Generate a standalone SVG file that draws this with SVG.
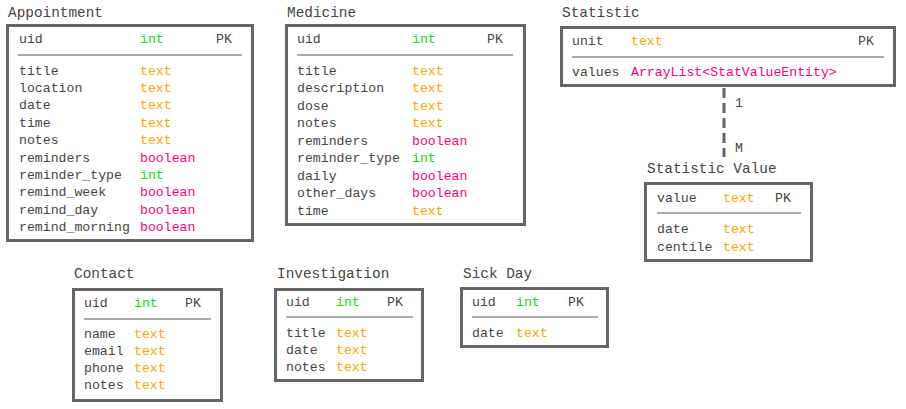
<svg xmlns="http://www.w3.org/2000/svg" width="906" height="409" viewBox="0 0 906 409">
<style>
text{font-family:"Liberation Mono","DejaVu Sans Mono",monospace;font-size:13.2px;fill:#444}
.title{font-size:14.4px}
.box{fill:#fff;stroke:#666;stroke-width:3}
.sep{stroke:#aaa;stroke-width:2}
.int{fill:#11dd11}
.txt{fill:#ffa500}
.bool{fill:#ff0077}
.conn{stroke:#666;stroke-width:3;stroke-dasharray:10 5;fill:none}
</style>
<rect width="906" height="409" fill="#fff"/>
<g id="connectors">
<line class="conn" x1="724" y1="88" x2="724" y2="157"/>
<text x="735" y="107">1</text>
<text x="735" y="152">M</text>
</g>
<g id="appointment">
<text class="title" x="8" y="16.5">Appointment</text>
<rect class="box" x="7.5" y="25.5" width="245" height="215"/>
<text x="19" y="43">uid</text><text class="int" x="140" y="43">int</text><text x="216" y="43">PK</text>
<line class="sep" x1="18" y1="55" x2="242" y2="55"/>
<text x="19" y="74.5">title</text><text class="txt" x="140" y="74.5">text</text>
<text x="19" y="91.9">location</text><text class="txt" x="140" y="91.9">text</text>
<text x="19" y="109.3">date</text><text class="txt" x="140" y="109.3">text</text>
<text x="19" y="126.7">time</text><text class="txt" x="140" y="126.7">text</text>
<text x="19" y="144.1">notes</text><text class="txt" x="140" y="144.1">text</text>
<text x="19" y="161.5">reminders</text><text class="bool" x="140" y="161.5">boolean</text>
<text x="19" y="178.9">reminder_type</text><text class="int" x="140" y="178.9">int</text>
<text x="19" y="196.3">remind_week</text><text class="bool" x="140" y="196.3">boolean</text>
<text x="19" y="213.7">remind_day</text><text class="bool" x="140" y="213.7">boolean</text>
<text x="19" y="231.1">remind_morning</text><text class="bool" x="140" y="231.1">boolean</text>
</g>
<g id="medicine">
<text class="title" x="287" y="16.5">Medicine</text>
<rect class="box" x="286.5" y="25.5" width="238" height="199"/>
<text x="297" y="43">uid</text><text class="int" x="412" y="43">int</text><text x="487" y="43">PK</text>
<line class="sep" x1="297" y1="55" x2="513" y2="55"/>
<text x="297" y="74.5">title</text><text class="txt" x="412" y="74.5">text</text>
<text x="297" y="92">description</text><text class="txt" x="412" y="92">text</text>
<text x="297" y="109.5">dose</text><text class="txt" x="412" y="109.5">text</text>
<text x="297" y="127">notes</text><text class="txt" x="412" y="127">text</text>
<text x="297" y="144.5">reminders</text><text class="bool" x="412" y="144.5">boolean</text>
<text x="297" y="162">reminder_type</text><text class="int" x="412" y="162">int</text>
<text x="297" y="179.5">daily</text><text class="bool" x="412" y="179.5">boolean</text>
<text x="297" y="197">other_days</text><text class="bool" x="412" y="197">boolean</text>
<text x="297" y="214.5">time</text><text class="txt" x="412" y="214.5">text</text>
</g>
<g id="statistic">
<text class="title" x="562" y="17">Statistic</text>
<rect class="box" x="561.5" y="27.5" width="333" height="58"/>
<text x="572" y="45">unit</text><text class="txt" x="631" y="45">text</text><text x="858" y="45">PK</text>
<line class="sep" x1="572" y1="57" x2="884" y2="57"/>
<text x="572" y="75.5">values</text><text class="bool" x="631" y="75.5">ArrayList&lt;StatValueEntity&gt;</text>
</g>
<g id="statistic-value">
<text class="title" x="647" y="173">Statistic Value</text>
<rect class="box" x="645.5" y="183.5" width="166" height="77"/>
<text x="657" y="201.5">value</text><text class="txt" x="723" y="201.5">text</text><text x="775" y="201.5">PK</text>
<line class="sep" x1="657" y1="213" x2="801" y2="213"/>
<text x="657" y="232.5">date</text><text class="txt" x="723" y="232.5">text</text>
<text x="657" y="250.5">centile</text><text class="txt" x="723" y="250.5">text</text>
</g>
<g id="contact">
<text class="title" x="74" y="278">Contact</text>
<rect class="box" x="73.5" y="289.5" width="148" height="111"/>
<text x="84" y="306.5">uid</text><text class="int" x="134" y="306.5">int</text><text x="185" y="306.5">PK</text>
<line class="sep" x1="84" y1="319" x2="211" y2="319"/>
<text x="84" y="337.5">name</text><text class="txt" x="134" y="337.5">text</text>
<text x="84" y="354.8">email</text><text class="txt" x="134" y="354.8">text</text>
<text x="84" y="372.1">phone</text><text class="txt" x="134" y="372.1">text</text>
<text x="84" y="389.4">notes</text><text class="txt" x="134" y="389.4">text</text>
</g>
<g id="investigation">
<text class="title" x="277" y="278">Investigation</text>
<rect class="box" x="275.5" y="289.5" width="147" height="91"/>
<text x="286" y="305.5">uid</text><text class="int" x="336" y="305.5">int</text><text x="387" y="305.5">PK</text>
<line class="sep" x1="286" y1="317" x2="413" y2="317"/>
<text x="286" y="336.5">title</text><text class="txt" x="336" y="336.5">text</text>
<text x="286" y="353.8">date</text><text class="txt" x="336" y="353.8">text</text>
<text x="286" y="371.1">notes</text><text class="txt" x="336" y="371.1">text</text>
</g>
<g id="sick-day">
<text class="title" x="463" y="278">Sick Day</text>
<rect class="box" x="461.5" y="288.5" width="146" height="58"/>
<text x="472" y="305.5">uid</text><text class="int" x="516" y="305.5">int</text><text x="568" y="305.5">PK</text>
<line class="sep" x1="472" y1="317" x2="598" y2="317"/>
<text x="472" y="336.5">date</text><text class="txt" x="516" y="336.5">text</text>
</g>
</svg>
